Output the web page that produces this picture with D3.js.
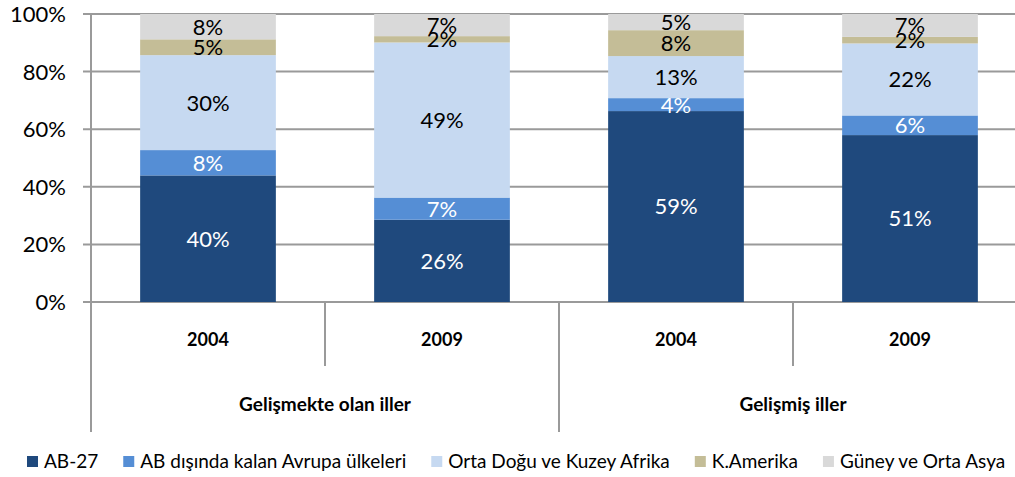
<!DOCTYPE html>
<html>
<head>
<meta charset="utf-8">
<script src="https://cdn.jsdelivr.net/npm/d3@7"></script>
<style>
  body { margin: 0; background: #fff; }
  text { font-family: Lato, "Open Sans", sans-serif; }
</style>
</head>
<body>
<svg id="chart" width="1015" height="477"></svg>
<script>
// data
const groups = ["Gelişmekte olan iller", "Gelişmiş iller"];
const years = ["2004", "2009"];
const seriesNames = ["AB-27", "AB dışında kalan Avrupa ülkeleri", "Orta Doğu ve Kuzey Afrika", "K.Amerika", "Güney ve Orta Asya"];
const ab27 = [40, 26, 59, 51];
const abDisi = [8, 7, 4, 6];
const ortaDogu = [30, 49, 13, 22];
const kAmerika = [5, 2, 8, 2];
const guneyAsya = [8, 7, 5, 7];
const yTicks = [0, 0.2, 0.4, 0.6, 0.8, 1];

const colors = ["#1f497d", "#558ed5", "#c6d9f1", "#c4bd97", "#d9d9d9"];
const labelColors = ["#fff", "#fff", "#000", "#000", "#000"];

const seriesValues = [ab27, abDisi, ortaDogu, kAmerika, guneyAsya];
const cats = [];
groups.forEach(g => years.forEach(y => cats.push({group: g, year: y, key: g + "|" + y})));
const table = cats.map((c, i) => {
	const row = {key: c.key};
	seriesNames.forEach((s, j) => row[s] = seriesValues[j][i]);
	return row;
});

const svg = d3.select("#chart");
const plotLeft = 91, plotTop = 14, plotBottom = 302;
const step = 234;

const x = d3.scaleBand()
	.domain(cats.map(c => c.key))
	.range([plotLeft, plotLeft + step * cats.length])
	.paddingInner(0.42)
	.paddingOuter(0.21);

const y = d3.scaleLinear()
	.domain([0, 1])
	.range([plotBottom, plotTop]);

const stacked = d3.stack()
	.keys(seriesNames)
	.offset(d3.stackOffsetExpand)(table);

// gridlines and ticks
svg.append("g").selectAll("line")
	.data(yTicks)
	.enter().append("line")
	.attr("x1", plotLeft - 8)
	.attr("x2", 1015)
	.attr("y1", d => y(d))
	.attr("y2", d => y(d))
	.attr("stroke", "#9a9a9a")
	.attr("stroke-width", 2);

svg.append("g").selectAll("text")
	.data(yTicks)
	.enter().append("text")
	.attr("x", 66)
	.attr("y", d => y(d))
	.attr("dy", "0.36em")
	.attr("text-anchor", "end")
	.attr("font-size", 22)
	.attr("fill", "#000")
	.text(d3.format(".0%"));

// bars
const layer = svg.append("g").selectAll("g")
	.data(stacked)
	.enter().append("g")
	.attr("fill", (d, i) => colors[i]);

layer.selectAll("rect")
	.data(d => d)
	.enter().append("rect")
	.attr("x", d => x(d.data.key))
	.attr("y", d => y(d[1]))
	.attr("height", d => y(d[0]) - y(d[1]))
	.attr("width", x.bandwidth());

// value labels
svg.append("g").selectAll("g")
	.data(stacked)
	.enter().append("g")
	.attr("fill", (d, i) => labelColors[i])
	.selectAll("text")
	.data(d => d.map(p => ({p: p, key: d.key})))
	.enter().append("text")
	.attr("x", d => x(d.p.data.key) + x.bandwidth() / 2)
	.attr("y", d => y((d.p[0] + d.p[1]) / 2))
	.attr("dy", "0.36em")
	.attr("text-anchor", "middle")
	.attr("font-size", 22)
	.text(d => d.p.data[d.key] + "%");

// category axis
const axisColor = "#9a9a9a";
svg.append("line")
	.attr("x1", plotLeft).attr("x2", plotLeft)
	.attr("y1", plotTop).attr("y2", 432)
	.attr("stroke", axisColor).attr("stroke-width", 2);

cats.forEach((c, i) => {
	if (i === 0) return;
	const xx = plotLeft + step * i;
	const full = cats[i - 1].group !== c.group;
	svg.append("line")
		.attr("x1", xx).attr("x2", xx)
		.attr("y1", plotBottom).attr("y2", full ? 432 : 366)
		.attr("stroke", axisColor).attr("stroke-width", 2);
});

svg.append("g").selectAll("text")
	.data(cats)
	.enter().append("text")
	.attr("x", d => x(d.key) + x.bandwidth() / 2)
	.attr("y", 340)
	.attr("dy", "0.36em")
	.attr("text-anchor", "middle")
	.attr("font-size", 18)
	.attr("font-weight", "bold")
	.text(d => d.year);

svg.append("g").selectAll("text")
	.data(groups)
	.enter().append("text")
	.attr("x", (d, i) => plotLeft + step * years.length * (i + 0.5))
	.attr("y", 404)
	.attr("dy", "0.36em")
	.attr("text-anchor", "middle")
	.attr("font-size", 19)
	.attr("font-weight", "bold")
	.text(d => d);

// legend
const legend = svg.append("g");
let lx = 27;
seriesNames.forEach((s, i) => {
	legend.append("rect")
		.attr("x", lx).attr("y", 456)
		.attr("width", 11).attr("height", 11)
		.attr("fill", colors[i]);
	const t = legend.append("text")
		.attr("x", lx + 17).attr("y", 461)
		.attr("dy", "0.36em")
		.attr("font-size", 19)
		.text(s);
	lx += 17 + t.node().getComputedTextLength() + 25;
});
</script>
</body>
</html>
